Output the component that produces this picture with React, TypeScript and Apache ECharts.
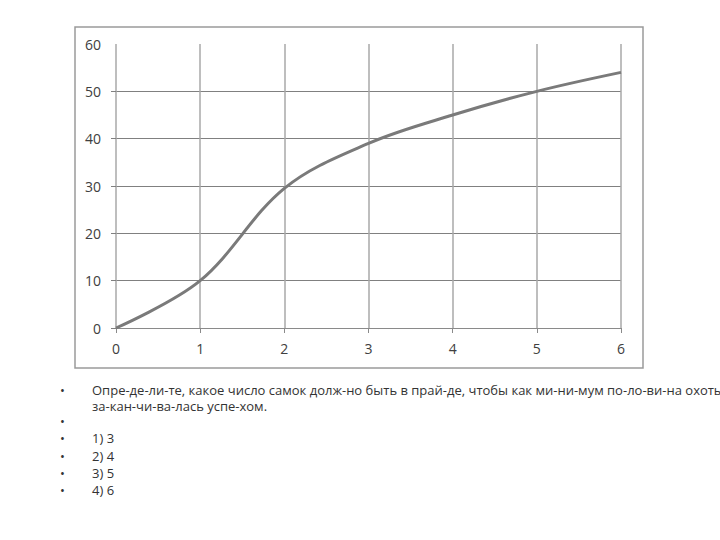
import React, { useEffect, useRef } from "react";
import * as echarts from "echarts";

const xValues = [0, 1, 2, 3, 4, 5, 6];
const yValues = [0, 10, 29.5, 39, 45, 50, 54];
const questionLines = [
  "Опре-де-ли-те, какое число самок долж-но быть в прай-де, чтобы как ми-ни-мум по-ло-ви-на охоты",
  "за-кан-чи-ва-лась успе-хом.",
];
const answers = ["", "1) 3", "2) 4", "3) 5", "4) 6"];

export default function App() {
  const ref = useRef<HTMLDivElement>(null);
  useEffect(() => {
    if (!ref.current) return;
    const chart = echarts.init(ref.current, null, { renderer: "svg" });
    const font = "'Open Sans', 'Noto Sans', sans-serif";
    const labelStyle = { color: "#404040", fontSize: 14, fontFamily: font };
    const gridLeft = 116;
    const gridRight = 99;
    const gridBottom = 212;
    const gridTop = 44;
    const plotH = 540 - gridTop - gridBottom;
    const top50 = gridTop + plotH / 6;

    const qLH = 16;
    const aLH = 17.25;
    const textEls: any[] = [
      {
        type: "text",
        x: 60,
        y: 390 - qLH / 2,
        style: { text: "•", fontSize: 13, lineHeight: qLH, fill: "#333", fontFamily: font, textVerticalAlign: "top" },
      },
      {
        type: "text",
        x: 92,
        y: 389.5 - qLH / 2,
        style: {
          text: questionLines.join("\n"),
          fontSize: 13,
          lineHeight: qLH,
          fill: "#333",
          fontFamily: font,
          textVerticalAlign: "top",
        },
      },
      {
        type: "text",
        x: 60,
        y: 421 - aLH / 2,
        style: {
          text: answers.map(() => "•").join("\n"),
          fontSize: 13,
          lineHeight: aLH,
          fill: "#333",
          fontFamily: font,
          textVerticalAlign: "top",
        },
      },
      {
        type: "text",
        x: 92,
        y: 421 - aLH / 2,
        style: {
          text: answers.join("\n"),
          fontSize: 13,
          lineHeight: aLH,
          fill: "#333",
          fontFamily: font,
          textVerticalAlign: "top",
        },
      },
    ];

    chart.setOption({
      animation: false,
      backgroundColor: "#ffffff",
      grid: [
        { left: gridLeft, right: gridRight, top: gridTop, bottom: gridBottom },
        { left: gridLeft, right: gridRight, top: top50, bottom: gridBottom },
      ],
      xAxis: [
        {
          type: "value",
          gridIndex: 0,
          min: 0,
          max: 6,
          interval: 1,
          axisLine: { show: true, lineStyle: { color: "#8a8a8a", width: 1 } },
          axisTick: { show: true, length: 5, lineStyle: { color: "#8a8a8a" } },
          axisLabel: { ...labelStyle, margin: 13 },
          splitLine: { show: true, lineStyle: { color: "#a8a8a8", width: 1.5 } },
        },
        {
          type: "value",
          gridIndex: 1,
          min: 0,
          max: 6,
          show: false,
        },
      ],
      yAxis: [
        {
          type: "value",
          gridIndex: 0,
          min: 0,
          max: 60,
          interval: 10,
          axisLine: { show: false },
          axisTick: { show: false },
          axisLabel: { ...labelStyle, margin: 15 },
          splitLine: { show: false },
        },
        {
          type: "value",
          gridIndex: 1,
          min: 0,
          max: 50,
          interval: 10,
          axisLine: { show: false },
          axisTick: { show: true, length: 5, lineStyle: { color: "#808080" } },
          axisLabel: { show: false },
          splitLine: { show: true, lineStyle: { color: "#808080", width: 1 } },
        },
      ],
      series: [
        {
          type: "line",
          xAxisIndex: 0,
          yAxisIndex: 0,
          data: xValues.map((x, i) => [x, yValues[i]]),
          smooth: 0.35,
          showSymbol: false,
          lineStyle: { color: "#7a7a7a", width: 3 },
          z: 5,
        },
      ],
      graphic: [
        {
          type: "rect",
          shape: { x: 75, y: 27, width: 568, height: 341 },
          style: { fill: "none", stroke: "#9a9a9a", lineWidth: 1.5 },
          z: -1,
        },
        ...textEls,
      ],
    });
    return () => chart.dispose();
  }, []);
  return (
    <div
      ref={ref}
      style={{ position: "fixed", left: 0, top: 0, width: 720, height: 540 }}
    />
  );
}
